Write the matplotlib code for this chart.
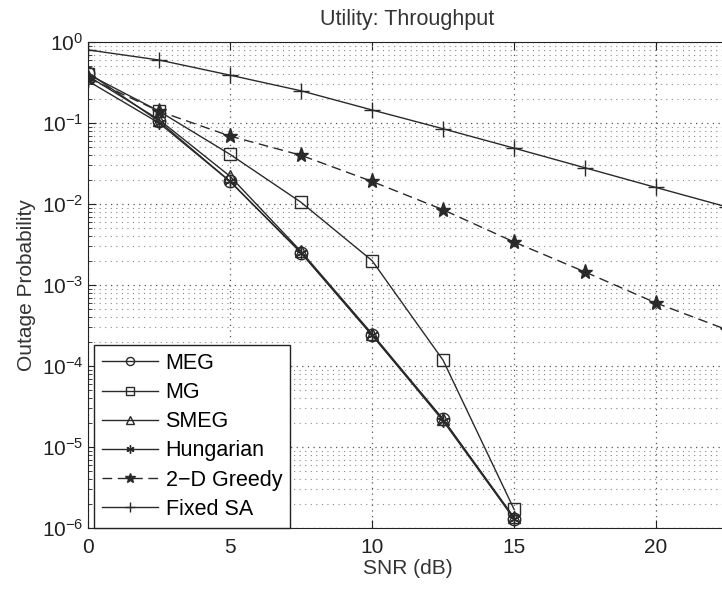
import numpy as np
import matplotlib.pyplot as plt
from matplotlib.ticker import FixedLocator, NullFormatter, LogFormatterSciNotation

plt.rcParams['font.family'] = ['Liberation Sans', 'DejaVu Sans']
plt.rcParams['mathtext.fontset'] = 'custom'
plt.rcParams['mathtext.rm'] = 'Liberation Sans'

snr = [0, 2.5, 5, 7.5, 10, 12.5, 15]
snr_long = [0, 2.5, 5, 7.5, 10, 12.5, 15, 17.5, 20, 22.5]

meg = [0.42, 0.105, 0.019, 0.0025, 0.00024, 2.2e-5, 1.3e-6]
mg = [0.40, 0.14, 0.041, 0.0105, 0.002, 0.000118, 1.7e-6]
smeg = [0.38, 0.11, 0.022, 0.0026, 0.00025, 2.2e-5, 1.35e-6]
hung = [0.33, 0.10, 0.019, 0.0025, 0.00024, 2.1e-5, 1.3e-6]
greedy = [0.36, 0.14, 0.069, 0.040, 0.019, 0.0085, 0.0034, 0.00145, 0.0006, 0.00028]
fixed = [0.80, 0.60, 0.39, 0.25, 0.145, 0.085, 0.049, 0.028, 0.016, 0.0092]

col = '#2a2a2a'
fig = plt.figure(figsize=(7.22, 5.89), dpi=100)
ax = fig.add_axes([0.122, 0.1036, 0.885, 0.825])

ax.semilogy(snr, meg, '-', color=col, lw=1, marker='o', ms=9, mfc='none', mec=col, label='MEG')
ax.semilogy(snr, mg, '-', color=col, lw=1, marker='s', ms=8, mfc='none', mec=col, label='MG')
ax.semilogy(snr, smeg, '-', color=col, lw=1, marker='^', ms=9, mfc='none', mec=col, label='SMEG')
ax.semilogy(snr, hung, '-', color=col, lw=1, marker=(6, 2, 0), ms=9, mec=col, label='Hungarian')
ax.semilogy(snr_long, greedy, '--', color=col, lw=1, dashes=(7, 4), marker='*', ms=11,
            mfc=col, mec=col, label='2\u2212D Greedy')
ax.semilogy(snr_long, fixed, '-', color=col, lw=1, marker='+', ms=11, mec=col, label='Fixed SA')

ax.set_xlim(0, 22.5)
ax.set_ylim(1e-6, 1)
ax.set_xticks([0, 5, 10, 15, 20])
decades = [10.0 ** k for k in range(-6, 1)]
minors = [m * 10.0 ** k for k in range(-6, 0) for m in range(2, 10)]
ax.yaxis.set_major_locator(FixedLocator(decades))
ax.yaxis.set_major_formatter(LogFormatterSciNotation())
ax.yaxis.set_minor_locator(FixedLocator(minors))
ax.yaxis.set_minor_formatter(NullFormatter())

ax.grid(True, which='major', axis='both', ls=(0, (1, 3.5)), color='#555555', lw=0.9)
ax.grid(True, which='minor', axis='y', ls=(0, (1, 4)), color='#888888', lw=0.8)

ax.tick_params(which='both', direction='in', top=True, right=False, labelsize=15, colors='#222222')
ax.tick_params(which='major', length=6)
ax.tick_params(axis='x', which='major', pad=7)
ax.tick_params(which='minor', length=3)
for s in ax.spines.values():
    s.set_color('#222222')
ax.spines['right'].set_visible(False)

ax.set_xlabel('SNR (dB)', fontsize=15, color='#333333', labelpad=2)
ax.set_ylabel('Outage Probability', fontsize=15, color='#333333', labelpad=4)
ax.set_title('Utility: Throughput', fontsize=15.5, color='#333333', pad=12)

leg = ax.legend(loc='lower left', bbox_to_anchor=(0.009, 0.0), borderaxespad=0, fontsize=15.5,
                fancybox=False, edgecolor='#222222', framealpha=1, handlelength=2.6,
                handletextpad=0.35, labelspacing=0.38, borderpad=0.38, markerscale=0.65)
leg.get_frame().set_linewidth(1.0)

fig.savefig('out.png', dpi=100)
